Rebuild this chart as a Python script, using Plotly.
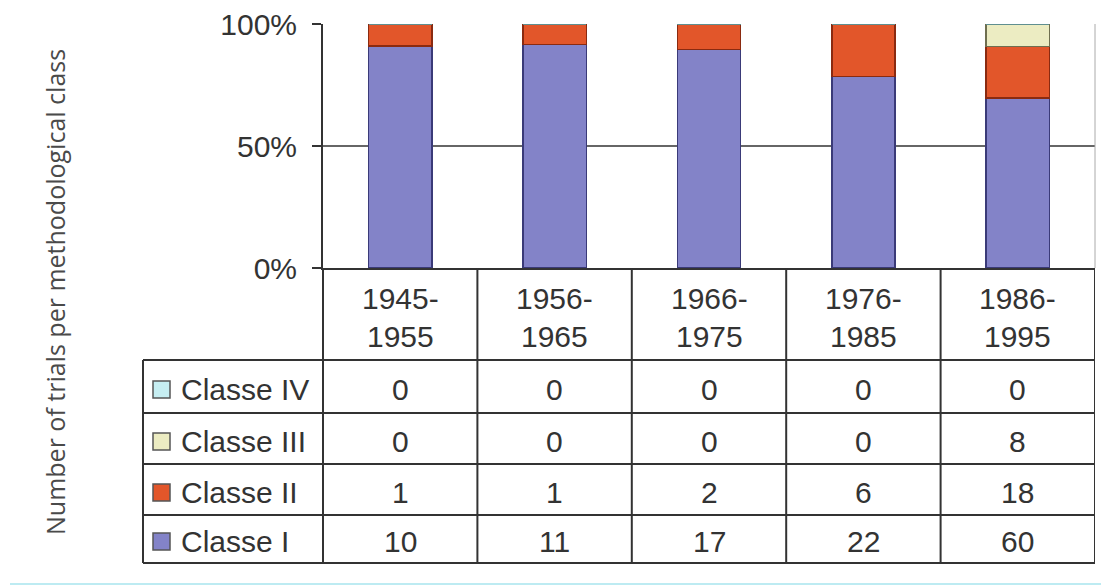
import plotly.graph_objects as go

categories = ["1945-1955", "1956-1965", "1966-1975", "1976-1985", "1986-1995"]
class_names = ["Classe I", "Classe II", "Classe III", "Classe IV"]
classe_i = [10, 11, 17, 22, 60]
classe_ii = [1, 1, 2, 6, 18]
classe_iii = [0, 0, 0, 0, 8]
classe_iv = [0, 0, 0, 0, 0]
y_ticks = [0, 50, 100]
y_title = "Number of trials per methodological class"

series = [classe_i, classe_ii, classe_iii, classe_iv]
colors = ["#8383c8", "#e2562a", "#ececc2", "#c6eef2"]
edges = ["#3a3a78", "#8a2a10", "#6f6f50", "#5f8f90"]

W, H = 1101, 586
L, R, T, B = 323, 6, 24, 318
PW, PH = W - L - R, H - T - B


def px_x(p):
    return (p - L) / PW


def px_y(p):
    return (H - B - p) / PH


fig = go.Figure()
for name, vals, c, e in zip(class_names, series, colors, edges):
    fig.add_trace(go.Bar(x=categories, y=vals, name=name, marker=dict(color=c, line=dict(color=e, width=1.5)),
                         width=0.41, showlegend=False))

font_main = dict(family="Liberation Sans, Arial", size=30, color="#333333")

shapes = []
ann = []
line_col = "#333333"
row_lines = [360, 413, 464, 515, 563]
for i, yl in enumerate(row_lines):
    shapes.append(dict(type="line", xref="paper", yref="paper", x0=px_x(143), x1=1, y0=px_y(yl), y1=px_y(yl),
                       line=dict(color=line_col, width=2), layer="above"))
shapes.append(dict(type="line", xref="paper", yref="paper", x0=px_x(143), x1=px_x(143), y0=px_y(360), y1=px_y(563),
                   line=dict(color=line_col, width=2)))
shapes.append(dict(type="line", xref="paper", yref="paper", x0=0, x1=0, y0=px_y(268), y1=px_y(563),
                   line=dict(color=line_col, width=2)))
for i in range(len(categories)):
    shapes.append(dict(type="line", xref="x", yref="paper", x0=i + 0.5, x1=i + 0.5, y0=0, y1=px_y(563),
                       line=dict(color=line_col, width=2)))
shapes.append(dict(type="line", xref="paper", yref="paper", x0=1, x1=1, y0=0, y1=1,
                   line=dict(color="#aaaaaa", width=1)))
shapes.append(dict(type="line", xref="paper", yref="paper", x0=px_x(10), x1=px_x(1101), y0=px_y(584), y1=px_y(584),
                   line=dict(color="#bdebf2", width=2)))

for c in categories:
    a, b = c.split("-")
    ann.append(dict(x=c, xref="x", y=px_y(298), yref="paper", text=a + "-", showarrow=False, font=font_main,
                    yanchor="middle"))
    ann.append(dict(x=c, xref="x", y=px_y(336), yref="paper", text=b, showarrow=False, font=font_main,
                    yanchor="middle"))

row_centers = {"Classe IV": 389, "Classe III": 441, "Classe II": 492, "Classe I": 541}
for name, vals, c, e in zip(class_names, series, colors, edges):
    yc = row_centers[name]
    shapes.append(dict(type="rect", xref="paper", yref="paper", x0=px_x(153), x1=px_x(170),
                       y0=px_y(yc - 8), y1=px_y(yc + 9), fillcolor=c, line=dict(color="#555555", width=1.5)))
    ann.append(dict(x=px_x(179), xref="paper", y=px_y(yc), yref="paper", text=name, showarrow=False,
                    font=font_main, xanchor="left", yanchor="middle"))
    for cat, v in zip(categories, vals):
        ann.append(dict(x=cat, xref="x", y=px_y(yc), yref="paper", text=str(v), showarrow=False,
                        font=font_main, yanchor="middle"))

ann.append(dict(x=px_x(55), xref="paper", y=px_y(292), yref="paper", text=y_title, textangle=-90,
                showarrow=False, font=dict(family="Open Sans", size=25, color="#4a4a4a"),
                xanchor="center", yanchor="middle"))

fig.update_layout(
    barmode="stack", barnorm="percent",
    width=W, height=H, margin=dict(l=L, r=R, t=T, b=B),
    paper_bgcolor="white", plot_bgcolor="white",
    shapes=shapes, annotations=ann,
    xaxis=dict(type="category", showticklabels=False, ticks="", showgrid=False, showline=True,
               linecolor=line_col, linewidth=2, range=[-0.5, len(categories) - 0.5], zeroline=False),
    yaxis=dict(range=[0, 100], tickvals=y_ticks, ticktext=[f"{t}%" for t in y_ticks], showgrid=True,
               gridcolor="#666666", gridwidth=1.5, ticks="outside", ticklen=9, tickcolor=line_col, tickwidth=2,
               showline=True, linecolor=line_col, linewidth=2, tickfont=font_main, ticklabelstandoff=9,
               zeroline=False),
)

fig.write_html("out.html")
